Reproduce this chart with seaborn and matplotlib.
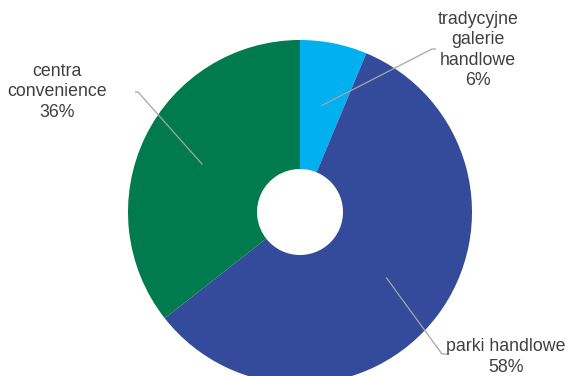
import matplotlib
matplotlib.use("Agg")
import matplotlib.pyplot as plt
import seaborn as sns
import numpy as np

categories = ["tradycyjne\ngalerie\nhandlowe", "parki handlowe", "centra\nconvenience"]
values = [6.3, 58.1, 35.6]
pct_labels = ["6%", "58%", "36%"]
colors = ["#00B0F0", "#344A9A", "#007A4F"]

sns.set_theme(style="white")
plt.rcParams["font.family"] = ["Liberation Sans", "DejaVu Sans"]

W, H = 568, 376
fig = plt.figure(figsize=(W / 100, H / 100), dpi=100)
ax = fig.add_axes([0, 0, 1, 1])

CX, CY, R = 300, 212, 172
HOLE = 43


def px(x, y):
    return ((x - CX) / R, (CY - y) / R)


wedges, _ = ax.pie(values, colors=colors, startangle=90, counterclock=False,
                   radius=1.0, wedgeprops=dict(width=1 - HOLE / R, linewidth=0))

ax.set_xlim(px(0, 0)[0], px(W, 0)[0])
ax.set_ylim(px(0, H)[1], px(0, 0)[1])
ax.set_aspect("auto")
ax.axis("off")

# label text centres and leader elbows (pixel coords)
text_pos = [(478, 50), (506, 357), (57, 92)]
elbow = [((432, 49), (436, 49)), ((442, 354), (447, 354)), ((138, 92), (135, 92))]

cum = 0
total = sum(values)
for i, v in enumerate(values):
    mid = 90 - (cum + v / 2) / total * 360
    cum += v
    sx, sy = 0.63 * np.cos(np.radians(mid)), 0.63 * np.sin(np.radians(mid))
    e1 = px(*elbow[i][0])
    e2 = px(*elbow[i][1])
    ax.plot([sx, e1[0], e2[0]], [sy, e1[1], e2[1]], color="#A6A6A6", lw=0.9,
            solid_capstyle="butt")
    tx, ty = px(*text_pos[i])
    ax.text(tx, ty, f"{categories[i]}\n{pct_labels[i]}", ha="center", va="center",
            multialignment="center", fontsize=12.8, color="#404040", linespacing=1.25)

fig.savefig("out.png", dpi=100)
